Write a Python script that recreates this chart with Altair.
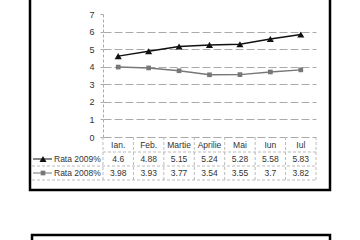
import altair as alt
import pandas as pd

months = ["Ian.", "Feb.", "Martie", "Aprilie", "Mai", "Iun", "Iul"]
series_names = ["Rata 2009%", "Rata 2008%"]
rata2009 = [4.6, 4.88, 5.15, 5.24, 5.28, 5.58, 5.83]
rata2008 = [3.98, 3.93, 3.77, 3.54, 3.55, 3.7, 3.82]
y_ticks = [0, 1, 2, 3, 4, 5, 6, 7]

rows = []
for s, vals in zip(series_names, [rata2009, rata2008]):
    for m, v in zip(months, vals):
        rows.append({"month": m, "series": s, "value": v, "label": f"{v:g}"})
df = pd.DataFrame(rows)
ser_df = pd.DataFrame({"series": series_names})
mon_df = pd.DataFrame({"month": months})
one = pd.DataFrame({"a": [0]})

FONT = "Liberation Sans"
W, H = 213, 123

xs = alt.Scale(type="band", domain=months, paddingInner=0, paddingOuter=0)
xaxis = alt.Axis(title=None, ticks=False, domain=False, labelAngle=0, labelPadding=3,
                 labelFontSize=8.5, labelFont=FONT, labelColor="#333333")


def X(bp=0.5):
    return alt.X("month:N", scale=xs, sort=months, bandPosition=bp, axis=xaxis)


color = alt.Color("series:N", scale=alt.Scale(domain=series_names, range=["#111111", "#777777"]), legend=None)
shape = alt.Shape("series:N", scale=alt.Scale(domain=series_names, range=["triangle-up", "square"]), legend=None)
size = alt.Size("series:N", scale=alt.Scale(domain=series_names, range=[50, 22]), legend=None)
row_y = alt.Y("series:N", scale=alt.Scale(type="point", domain=series_names, range=[145, 159], padding=0), axis=None)

yaxis = alt.Axis(values=y_ticks, title=None, grid=True, gridColor="#aaaaaa",
                 gridDash=[8, 3], gridWidth=1,
                 gridOpacity=alt.condition("datum.value == 7", alt.value(0), alt.value(1)),
                 domainColor="#aaaaaa", domainDash=[3, 2],
                 tickColor="#aaaaaa", tickSize=3, labelPadding=6, labelFontSize=9,
                 labelFont=FONT, labelColor="#333333")
yq = alt.Y("value:Q", scale=alt.Scale(domain=[0, 7], nice=False), axis=yaxis)

lines = alt.Chart(df).mark_line(strokeWidth=1.4).encode(x=X(), y=yq, color=color, detail="series:N")
points = alt.Chart(df).mark_point(filled=True, opacity=1).encode(
    x=X(), y=yq, color=color, shape=shape, size=size)
plot = alt.layer(lines, points)

vlines = alt.Chart(mon_df).mark_rule(color="#bbbbbb", strokeDash=[3, 2], strokeWidth=1).encode(
    x=X(0), y=alt.value(H), y2=alt.value(H + 43))
vright = alt.Chart(one).mark_rule(color="#bbbbbb", strokeDash=[3, 2]).encode(
    x=alt.value(W), y=alt.value(H), y2=alt.value(H + 43))
hline1 = alt.Chart(one).mark_rule(color="#bbbbbb", strokeDash=[3, 2]).encode(
    x=alt.value(0), x2=alt.value(W), y=alt.value(138))
hline2 = alt.Chart(one).mark_rule(color="#bbbbbb", strokeDash=[3, 2]).encode(
    x=alt.value(-71), x2=alt.value(W), y=alt.value(152))
hline3 = alt.Chart(one).mark_rule(color="#bbbbbb", strokeDash=[3, 2]).encode(
    x=alt.value(-71), x2=alt.value(W), y=alt.value(166))

cells = alt.Chart(df).mark_text(fontSize=8.5, font=FONT, color="#333333", baseline="middle").encode(
    x=X(), y=row_y, text="label:N")

leg_text = alt.Chart(ser_df).mark_text(fontSize=8.5, font=FONT, color="#333333", align="left",
                                       baseline="middle").encode(
    x=alt.value(-49), y=row_y, text="series:N")
leg_line = alt.Chart(ser_df).mark_rule(strokeWidth=1).encode(
    x=alt.value(-70), x2=alt.value(-51), y=row_y, color=color)
leg_pt = alt.Chart(ser_df).mark_point(filled=True, opacity=1).encode(
    x=alt.value(-60), y=row_y, color=color, shape=shape, size=size)

frame = alt.Chart(one).mark_rect(fill=None, stroke="black", strokeWidth=2.5).encode(
    x=alt.value(-73), x2=alt.value(227), y=alt.value(-30), y2=alt.value(176))
frame2 = alt.Chart(one).mark_rect(fill=None, stroke="black", strokeWidth=2.5).encode(
    x=alt.value(-71), x2=alt.value(227), y=alt.value(221), y2=alt.value(260))

chart = alt.layer(
    frame, frame2, vlines, vright, hline1, hline2, hline3, plot, cells, leg_line, leg_pt, leg_text
).resolve_scale(y="independent").properties(
    width=W, height=H,
    padding={"left": 103, "top": 14, "right": 44, "bottom": 103},
    autosize=alt.AutoSizeParams(type="none"),
    background="white",
).configure_view(stroke=None)

chart.save("out.html", embed_options={"renderer": "svg", "actions": False})
